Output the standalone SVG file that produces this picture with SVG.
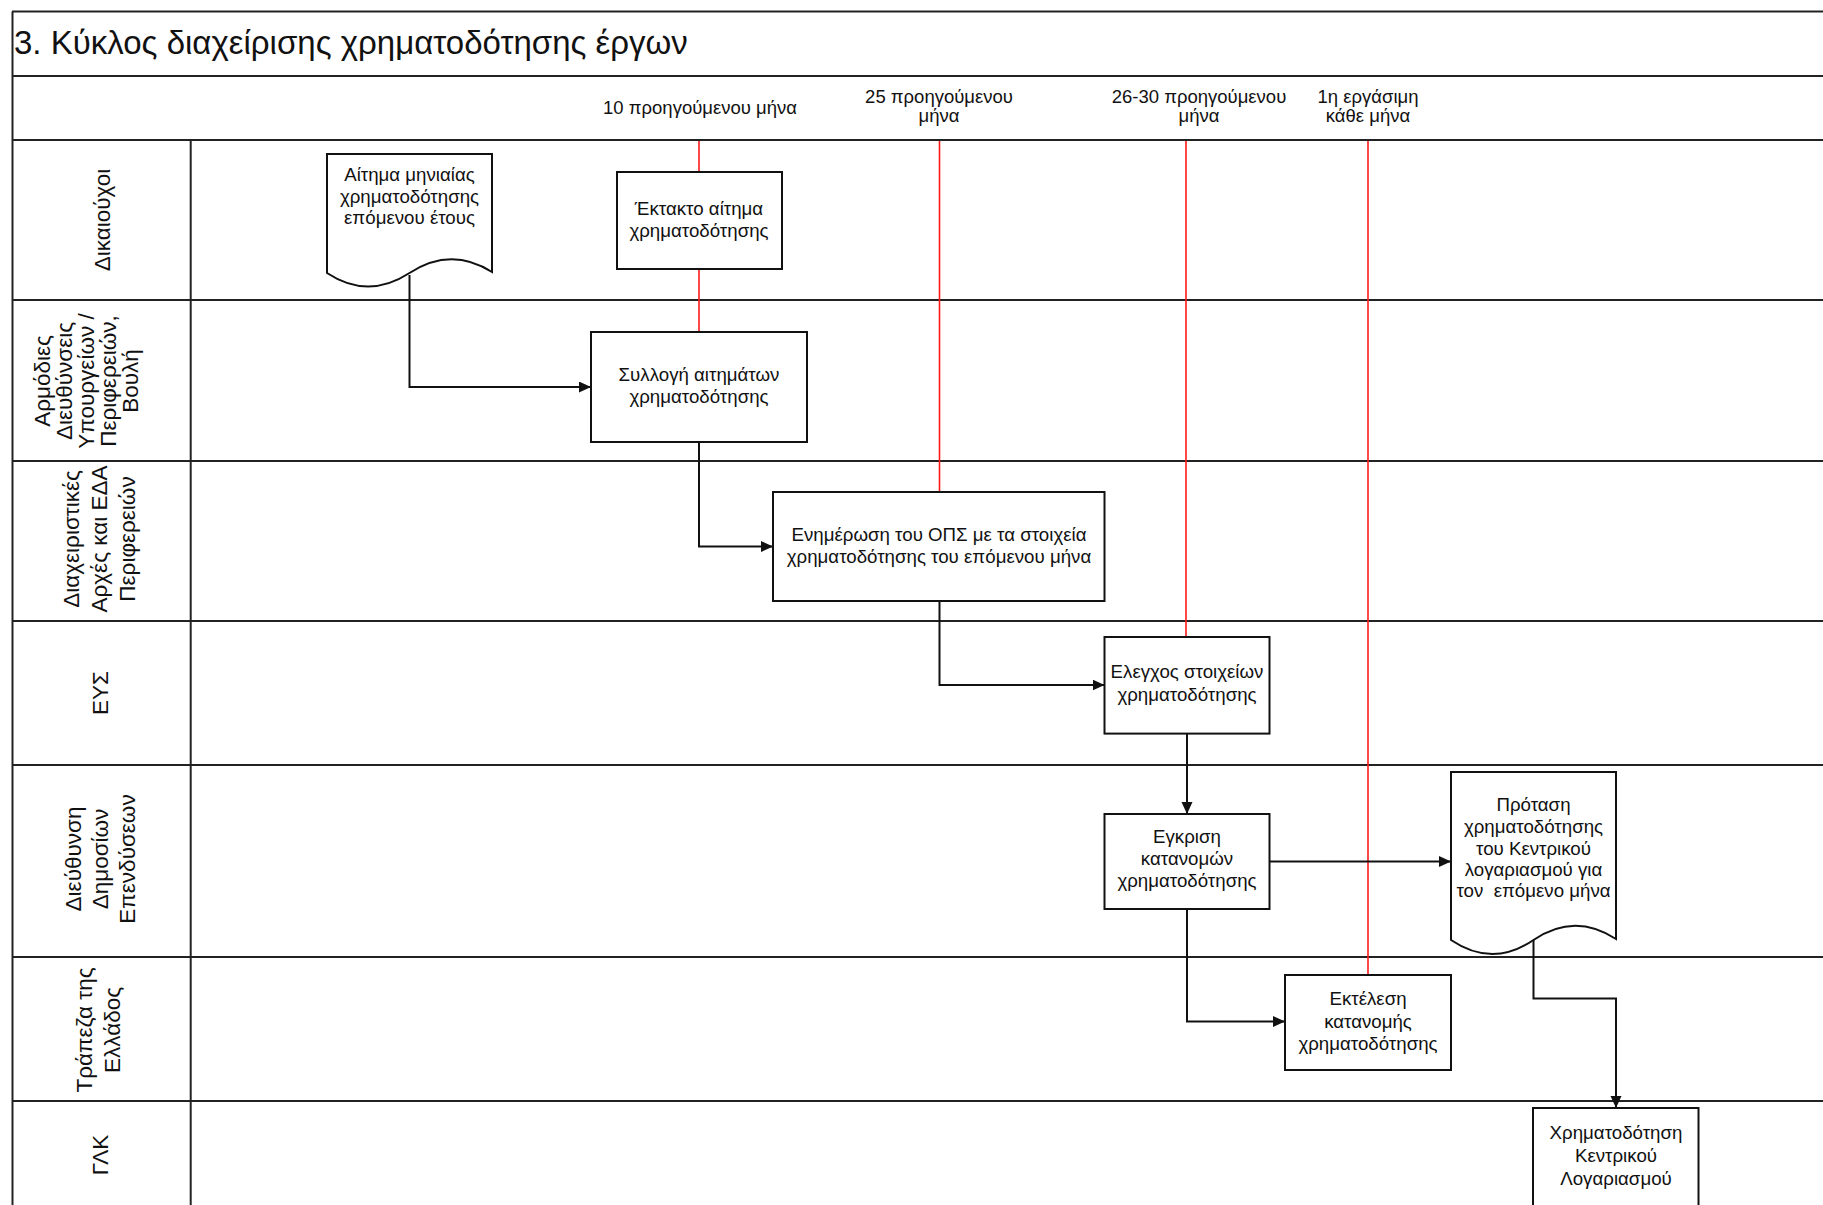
<svg xmlns="http://www.w3.org/2000/svg" width="1823" height="1205" viewBox="0 0 1823 1205">
<style>
  text { font-family: "Liberation Sans", Arial, sans-serif; fill: #111; }
  .title { font-size: 33px; }
  .hdr { font-size: 18.5px; text-anchor: middle; }
  .lane { font-size: 22.5px; text-anchor: middle; }
  .box { font-size: 18.7px; text-anchor: middle; }
  .grid { stroke: #222; stroke-width: 2; fill: none; }
  .red { stroke: #ff1a1a; stroke-width: 1.6; fill: none; }
  .shape { fill: #fff; stroke: #111; stroke-width: 2; }
  .conn { fill: none; stroke: #111; stroke-width: 2; }
</style>
<defs>
  <marker id="arr" markerUnits="userSpaceOnUse" markerWidth="14" markerHeight="12" refX="12" refY="5.5" orient="auto">
    <path d="M0,0 L12,5.5 L0,11 Z" fill="#111"/>
  </marker>
</defs>
<rect x="0" y="0" width="1823" height="1205" fill="#fff"/>

<g id="frame">
  <line class="grid" x1="12" y1="11.5" x2="1823" y2="11.5"/>
  <line class="grid" x1="12.5" y1="11.5" x2="12.5" y2="1205"/>
  <line class="grid" x1="12" y1="76" x2="1823" y2="76"/>
  <line class="grid" x1="12" y1="140" x2="1823" y2="140"/>
  <line class="grid" x1="190.7" y1="140" x2="190.7" y2="1205"/>
  <line class="grid" x1="12" y1="300" x2="1823" y2="300"/>
  <line class="grid" x1="12" y1="461" x2="1823" y2="461"/>
  <line class="grid" x1="12" y1="621" x2="1823" y2="621"/>
  <line class="grid" x1="12" y1="765" x2="1823" y2="765"/>
  <line class="grid" x1="12" y1="957" x2="1823" y2="957"/>
  <line class="grid" x1="12" y1="1101" x2="1823" y2="1101"/>
  <text class="title" x="14" y="54">3. Κύκλος διαχείρισης χρηματοδότησης έργων</text>
</g>

<g id="timeline">
  <text class="hdr" x="700" y="114">10 προηγούμενου μήνα</text>
  <text class="hdr" x="939" y="103">25 προηγούμενου</text>
  <text class="hdr" x="939" y="122">μήνα</text>
  <text class="hdr" x="1199" y="103">26-30 προηγούμενου</text>
  <text class="hdr" x="1199" y="122">μήνα</text>
  <text class="hdr" x="1368" y="103">1η εργάσιμη</text>
  <text class="hdr" x="1368" y="122">κάθε μήνα</text>
  <line class="red" x1="699" y1="141" x2="699" y2="332"/>
  <line class="red" x1="939.5" y1="141" x2="939.5" y2="492"/>
  <line class="red" x1="1186" y1="141" x2="1186" y2="637"/>
  <line class="red" x1="1368" y1="141" x2="1368" y2="975"/>
</g>

<g id="lanes">
  <text class="lane" transform="translate(110,220) rotate(-90)">Δικαιούχοι</text>
  <text class="lane" transform="translate(50,381) rotate(-90)">Αρμόδιες</text>
  <text class="lane" transform="translate(72,381) rotate(-90)">Διευθύνσεις</text>
  <text class="lane" transform="translate(94,381) rotate(-90)">Υπουργείων /</text>
  <text class="lane" transform="translate(115.5,381) rotate(-90)">Περιφερειών,</text>
  <text class="lane" transform="translate(137.5,381) rotate(-90)">Βουλή</text>
  <text class="lane" transform="translate(79,539) rotate(-90)">Διαχειριστικές</text>
  <text class="lane" transform="translate(107,539) rotate(-90)">Αρχές και ΕΔΑ</text>
  <text class="lane" transform="translate(135,539) rotate(-90)">Περιφερειών</text>
  <text class="lane" transform="translate(108,693) rotate(-90)">ΕΥΣ</text>
  <text class="lane" transform="translate(81,859) rotate(-90)">Διεύθυνση</text>
  <text class="lane" transform="translate(108,859) rotate(-90)">Δημοσίων</text>
  <text class="lane" transform="translate(135,859) rotate(-90)">Επενδύσεων</text>
  <text class="lane" transform="translate(92,1030) rotate(-90)">Τράπεζα της</text>
  <text class="lane" transform="translate(120,1030) rotate(-90)">Ελλάδος</text>
  <text class="lane" transform="translate(108,1155) rotate(-90)">ΓΛΚ</text>
</g>

<g id="connectors">
  <path class="conn" d="M409.5,275 V387 H591" marker-end="url(#arr)"/>
  <path class="conn" d="M699,442 V546.5 H773" marker-end="url(#arr)"/>
  <path class="conn" d="M939.5,601 V685 H1104.5" marker-end="url(#arr)"/>
  <path class="conn" d="M1187,733.6 V814" marker-end="url(#arr)"/>
  <path class="conn" d="M1269.5,861.5 H1451" marker-end="url(#arr)"/>
  <path class="conn" d="M1187,909 V1021.5 H1285" marker-end="url(#arr)"/>
  <path class="conn" d="M1533.5,940 V998.5 H1616 V1108" marker-end="url(#arr)"/>
</g>

<g id="n1">
  <path class="shape" d="M327,154 H492 V272 Q451,246 409.5,273 T327,273 Z"/>
  <text class="box" x="409.5" y="181">Αίτημα μηνιαίας</text>
  <text class="box" x="409.5" y="203">χρηματοδότησης</text>
  <text class="box" x="409.5" y="224">επόμενου έτους</text>
</g>
<g id="n2">
  <rect class="shape" x="617" y="172" width="165" height="97"/>
  <text class="box" x="699" y="215">Έκτακτο αίτημα</text>
  <text class="box" x="699" y="237">χρηματοδότησης</text>
</g>
<g id="n3">
  <rect class="shape" x="591" y="332" width="216" height="110"/>
  <text class="box" x="699" y="381">Συλλογή αιτημάτων</text>
  <text class="box" x="699" y="403">χρηματοδότησης</text>
</g>
<g id="n4">
  <rect class="shape" x="773" y="492" width="331.5" height="109"/>
  <text class="box" x="939" y="541">Ενημέρωση του ΟΠΣ με τα στοιχεία</text>
  <text class="box" x="939" y="563">χρηματοδότησης του επόμενου μήνα</text>
</g>
<g id="n5">
  <rect class="shape" x="1104.5" y="637" width="165" height="96.6"/>
  <text class="box" x="1187" y="678">Ελεγχος στοιχείων</text>
  <text class="box" x="1187" y="701">χρηματοδότησης</text>
</g>
<g id="n6">
  <rect class="shape" x="1104.5" y="814" width="165" height="95"/>
  <text class="box" x="1187" y="843">Εγκριση</text>
  <text class="box" x="1187" y="865">κατανομών</text>
  <text class="box" x="1187" y="887">χρηματοδότησης</text>
</g>
<g id="n7">
  <path class="shape" d="M1451,772 H1616 V939 Q1574.5,912 1533.5,940 T1451,940 Z"/>
  <text class="box" x="1533.5" y="811">Πρόταση</text>
  <text class="box" x="1533.5" y="833">χρηματοδότησης</text>
  <text class="box" x="1533.5" y="854.5">του Κεντρικού</text>
  <text class="box" x="1533.5" y="876">λογαριασμού για</text>
  <text class="box" x="1533.5" y="897" style="white-space:pre">τον  επόμενο μήνα</text>
</g>
<g id="n8">
  <rect class="shape" x="1285" y="975" width="166" height="95"/>
  <text class="box" x="1368" y="1005">Εκτέλεση</text>
  <text class="box" x="1368" y="1028">κατανομής</text>
  <text class="box" x="1368" y="1050">χρηματοδότησης</text>
</g>
<g id="n9">
  <rect class="shape" x="1533" y="1108" width="165.5" height="110"/>
  <text class="box" x="1616" y="1139">Χρηματοδότηση</text>
  <text class="box" x="1616" y="1162">Κεντρικού</text>
  <text class="box" x="1616" y="1185">Λογαριασμού</text>
</g>
</svg>
